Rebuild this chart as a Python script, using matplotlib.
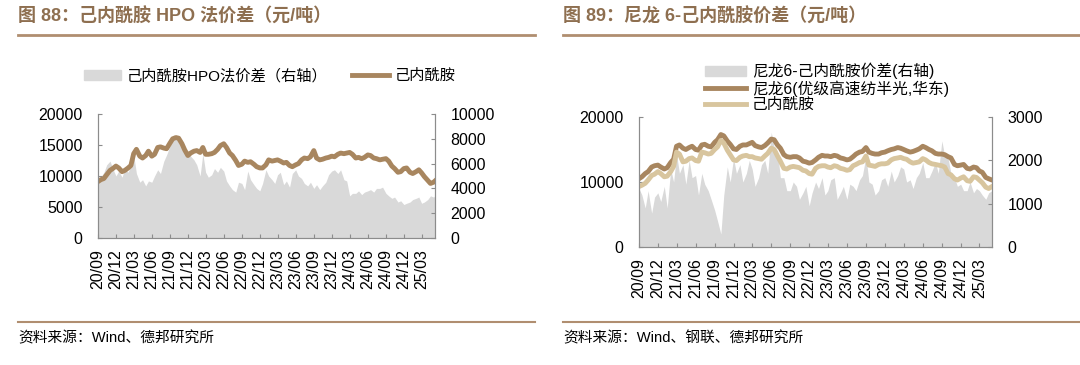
import numpy as np
import pandas as pd
import matplotlib
matplotlib.use("Agg")
import matplotlib.pyplot as plt
from matplotlib.patches import Patch
from matplotlib.lines import Line2D

plt.rcParams['font.family'] = ['Liberation Sans', 'Noto Sans CJK SC', 'DejaVu Sans']

# semi-monthly observations, 2020-09 .. 2025-05
dates = pd.date_range('2020-09-01', '2025-05-16', freq='SMS')

# chart 88
cpl_left = [
    9100, 9400, 9600, 10200, 10900, 11200, 11600, 11300, 10700, 10900, 11300, 11700,
    13600, 14300, 13200, 12900, 13300, 14000, 13200, 13500, 14600, 14700, 14500, 14400,
    15300, 16000, 16200, 16100, 15200, 14200, 13300, 13700, 14000, 14100, 13800, 14600,
    13500, 13500, 13600, 13800, 14300, 14900, 15200, 14600, 13700, 13300, 12500, 11700,
    11900, 12400, 12200, 12300, 11900, 11500, 11300, 11300, 11800, 12600, 12400, 12500,
    12600, 12400, 12100, 12200, 11700, 11500, 11800, 12000, 12600, 12900, 12800, 13100,
    14100, 12900, 12600, 12700, 12900, 13000, 13200, 13100, 13500, 13700, 13600, 13700,
    13800, 13500, 12900, 13000, 12800, 13000, 13400, 13300, 12900, 12800, 12600, 12700,
    12800, 12400, 11600, 11200, 10600, 10700, 11200, 11300, 10600, 10400, 10700, 11000,
    10500, 9900, 9300, 8800, 9000, 9400]
hpo_spread = [
    4600, 4900, 5300, 5900, 6200, 5600, 5000, 5400, 4900, 5600, 5300, 5900,
    6700, 5200, 4500, 4700, 4200, 4600, 4500, 5000, 5500, 5200, 6200, 6700,
    7400, 7900, 8300, 8100, 7600, 7200, 6900, 6600, 6300, 5900, 5000, 6800,
    5300, 4900, 5100, 5600, 5300, 5700, 5400, 4600, 4200, 3900, 3700, 4500,
    4400, 3900, 5400, 4700, 4300, 4000, 3800, 4400, 5500, 5000, 4700, 4400,
    5100, 5300, 4300, 4600, 4100, 5200, 5500, 5000, 4800, 4400, 4200, 4500,
    4000, 4300, 3900, 4200, 4500, 5100, 5400, 5500, 5200, 5500, 4700, 4600,
    3400, 3600, 3600, 3800, 3500, 3700, 3800, 3900, 3700, 4000, 4000, 4100,
    3600, 3400, 3200, 3300, 2900, 3000, 2700, 2800, 2900, 3100, 3200, 3300,
    2800, 2900, 3100, 3400, 3300, 3500]

# chart 89
pa6 = [
    10500, 10800, 11300, 11600, 12300, 12500, 12600, 12300, 12000, 12200, 13000, 13500,
    15500, 15700, 15200, 15000, 15300, 15500, 15000, 14900, 15700, 15800, 15500, 15400,
    16100, 16500, 17300, 17100, 16300, 15800, 15100, 15000, 15500, 15700, 15700, 15900,
    16100, 15600, 15400, 15300, 15600, 16000, 16600, 16500, 15700, 15200, 14200, 13900,
    13800, 13900, 13900, 13700, 13200, 13100, 12900, 13000, 13400, 13800, 14100, 14000,
    14000, 13900, 14100, 14000, 13700, 13600, 13400, 13500, 13900, 14300, 14600, 14700,
    15300, 14600, 14400, 14300, 14300, 14500, 14600, 14800, 15000, 15100, 15300, 15200,
    15000, 14800, 14600, 14700, 14900, 15100, 15500, 15300, 15000, 14800, 14400, 14300,
    14300, 14200, 13900, 13700, 12700, 12500, 12600, 12700, 12100, 12000, 12300, 12200,
    11700, 11500, 10700, 10500, 10300, 10500]
cpl_right = [
    9300, 9500, 9800, 10300, 11000, 11200, 11600, 11300, 10800, 10900, 11600, 12400,
    14600, 14300, 13100, 13200, 13600, 13700, 13300, 13200, 14600, 14500, 14300, 14400,
    15000, 15400, 16400, 16000, 14900, 14200, 13400, 13300, 13800, 14000, 14100, 13900,
    13900, 13700, 13600, 13500, 14000, 14400, 15200, 15000, 14000, 13200, 12100, 12000,
    12300, 12400, 12300, 12200, 11800, 11700, 11300, 11200, 12100, 12400, 12500, 12500,
    12300, 12200, 12500, 12400, 12100, 12000, 11800, 11900, 12500, 12700, 13000, 13100,
    14000, 12600, 12500, 12400, 12700, 12800, 12800, 12900, 13400, 13600, 13700, 13800,
    13600, 13500, 13100, 12900, 13000, 13100, 13600, 13400, 13000, 12800, 12700, 12600,
    12500, 12300, 11300, 11100, 10500, 10300, 10600, 10800, 10200, 10100, 10800, 10700,
    10300, 9900, 9200, 9000, 9300, 9600]
pa6_spread = [
    1350, 1200, 900, 1300, 780, 1150, 1250, 1050, 1400, 900, 1800, 1500,
    2150, 1700, 1900, 1450, 2000, 1600, 1650, 1200, 1700, 1450, 1300, 1100,
    850, 600, 300, 1200, 1850, 1500, 2050, 1700, 1900, 1500, 1700, 2000,
    1800, 1400, 1600, 1900, 2000, 1700, 2650, 2300, 2200, 1600, 1600, 1300,
    1300, 1500, 1400, 1100, 1250, 1400, 950, 1250, 1500, 1350, 1600, 1200,
    1300, 1550, 1600, 1100, 1250, 1400, 1100, 1450, 1400, 1300, 1550, 1650,
    2100, 1500, 1450, 1200, 1300, 1550, 1600, 1400, 1750, 1500, 1650, 1850,
    1800, 1500, 1550, 1350, 1600, 1700, 1950, 1600, 1600, 1750, 1950, 1700,
    2450, 2100, 2050, 1700, 1600, 1400, 1450, 1300, 1300, 1500, 1250, 1350,
    1300, 1200, 1100, 1250, 1300, 1250]

tick_dates = pd.date_range('2020-09-01', '2025-03-01', freq='3MS')
tick_labels = [d.strftime('%y/%m') for d in tick_dates]

BROWN = '#A8865F'
LIGHT = '#D8C59E'
GRAY = '#D9D9D9'
TITLE_C = '#8E6F50'
RULE_C = '#B08E70'
SPINE_C = '#8C8C8C'

W, H = 1080, 365
fig = plt.figure(figsize=(W / 100, H / 100), dpi=100)


def px(x0, y0, x1, y1):
    return [x0 / W, 1 - y1 / H, (x1 - x0) / W, (y1 - y0) / H]


def style(ax, ax2, xend):
    for a in (ax, ax2):
        a.spines['top'].set_visible(False)
        for s in ('left', 'right', 'bottom'):
            a.spines[s].set_color(SPINE_C)
            a.spines[s].set_linewidth(0.8)
        a.tick_params(direction='in', length=3, color=SPINE_C, labelsize=11.5)
        a.tick_params(axis='y', pad=11)
    ax.tick_params(axis='x', pad=8)
    ax.set_xticks(tick_dates)
    ax.set_xticklabels(tick_labels, rotation=90)
    ax.set_xlim(pd.Timestamp('2020-09-01'), pd.Timestamp(xend))
    ax.set_zorder(ax2.get_zorder() + 1)
    ax.patch.set_visible(False)


def frame(x0, x1, title):
    fig.text(x0, 1 - 17 / H, title, fontsize=13, fontweight='bold', color=TITLE_C,
             va='center', ha='left')
    fig.add_artist(Line2D([x0, x1], [1 - 35 / H] * 2, color=RULE_C, lw=2))
    fig.add_artist(Line2D([x0, x1], [1 - 322 / H] * 2, color=RULE_C, lw=1.5))


# ---- chart 88
ax1 = fig.add_axes(px(98, 114, 435, 238))
ax1b = ax1.twinx()
ax1b.fill_between(dates, hpo_spread, 0, color=GRAY, lw=0)
ax1.plot(dates, cpl_left, color=BROWN, lw=3.5, solid_capstyle='round')
ax1.set_ylim(0, 20000)
ax1.set_yticks(range(0, 20001, 5000))
ax1b.set_ylim(0, 10000)
ax1b.set_yticks(range(0, 10001, 2000))
style(ax1, ax1b, '2025-05-08')
frame(18 / W, 535 / W, '图 88：己内酰胺 HPO 法价差（元/吨）')
fig.text(18 / W, 1 - 338 / H, '资料来源：Wind、德邦研究所', fontsize=10.6, va='center')
fig.legend(handles=[Patch(color=GRAY, label='己内酰胺HPO法价差（右轴）'),
                    Line2D([], [], color=BROWN, lw=3.5, label='己内酰胺')],
           loc='center', bbox_to_anchor=(270 / W, 1 - 76 / H), ncol=2, frameon=False,
           fontsize=11, handlelength=2.4, handleheight=0.6, columnspacing=1.6,
           handletextpad=0.4)

# ---- chart 89
ax2 = fig.add_axes(px(639, 117, 992, 247))
ax2b = ax2.twinx()
ax2b.fill_between(dates, pa6_spread, 0, color=GRAY, lw=0)
ax2.plot(dates, pa6, color=BROWN, lw=3.5, solid_capstyle='round')
ax2.plot(dates, cpl_right, color=LIGHT, lw=3.5, solid_capstyle='round')
ax2.set_ylim(0, 20000)
ax2.set_yticks([0, 10000, 20000])
ax2b.set_ylim(0, 3000)
ax2b.set_yticks([0, 1000, 2000, 3000])
style(ax2, ax2b, '2025-05-01')
frame(563 / W, 1080 / W, '图 89：尼龙 6-己内酰胺价差（元/吨）')
fig.text(563 / W, 1 - 338 / H, '资料来源：Wind、钢联、德邦研究所', fontsize=10.6, va='center')
fig.legend(handles=[Patch(color=GRAY, label='尼龙6-己内酰胺价差(右轴)'),
                    Line2D([], [], color=BROWN, lw=3.5, label='尼龙6(优级高速纺半光,华东)'),
                    Line2D([], [], color=LIGHT, lw=3.5, label='己内酰胺')],
           loc='upper left', bbox_to_anchor=(697 / W, 1 - 55 / H), ncol=1, frameon=False,
           fontsize=11.3, handlelength=2.6, handleheight=0.6, labelspacing=0.05,
           handletextpad=0.4, borderpad=0)

fig.savefig('out.png', dpi=100)
